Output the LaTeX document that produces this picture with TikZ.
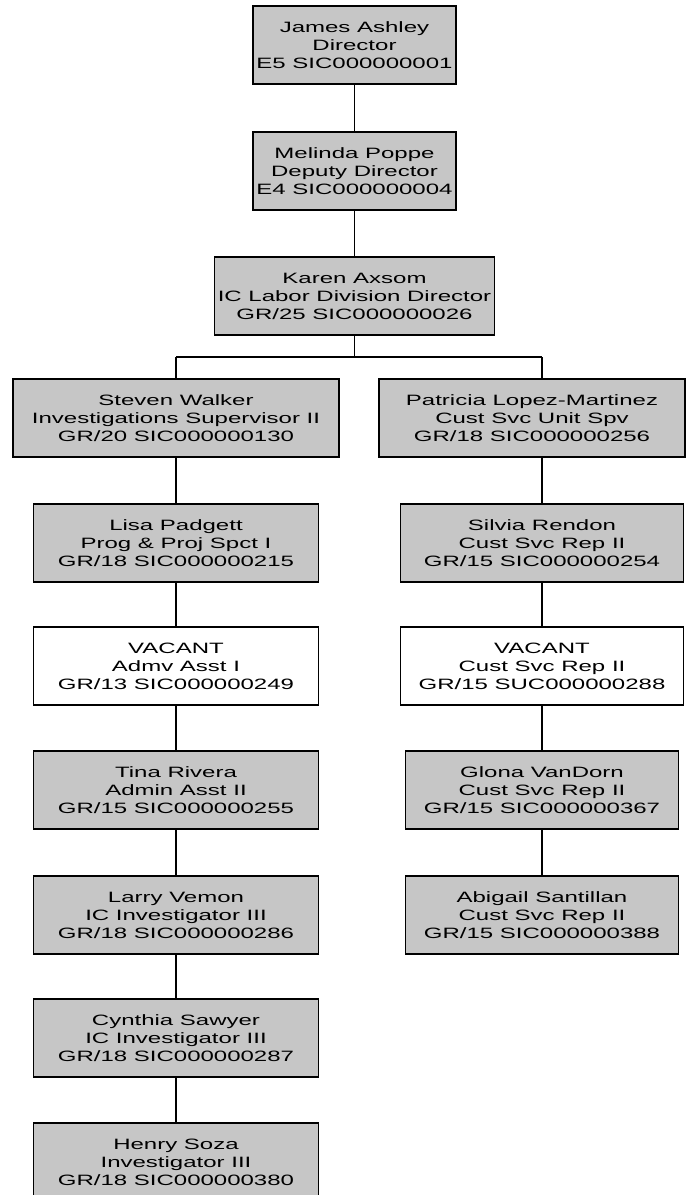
\documentclass[tikz,border=0pt]{standalone}
\usepackage{fontspec}
\newfontfamily\chartfont[FakeStretch=1.6]{Liberation Sans}
\begin{document}
\begin{tikzpicture}[x=1pt,y=-1pt,
  person/.style={draw=black,line width=1.8pt,fill=gray!45,rectangle,align=center,
    inner sep=0pt,font=\chartfont\fontsize{15}{18}\selectfont,minimum height=78pt},
  vacant/.style={person,fill=white},
  wtop/.style={minimum width=203pt},
  wside/.style={minimum width=285pt},
  link/.style={draw=black,line width=1.8pt}]
\useasboundingbox (0,0) rectangle (687,1195);
\begin{scope}
\clip (0,0) rectangle (687,1195);
\node[person,wtop] (ja) at (354.5,45) {James Ashley\\Director\\E5 SIC000000001};
\node[person,wtop] (mp) at (354.5,171) {Melinda Poppe\\Deputy Director\\E4 SIC000000004};
\node[person,minimum width=280pt] (ka) at (354.5,296) {Karen Axsom\\IC Labor Division Director\\GR/25 SIC000000026};
\node[person,minimum width=326pt] (sw) at (176,418) {Steven Walker\\Investigations Supervisor II\\GR/20 SIC000000130};
\node[person,minimum width=306pt] (pl) at (532,418) {Patricia Lopez-Martinez\\Cust Svc Unit Spv\\GR/18 SIC000000256};
\node[person,wside] (lp) at (176,543) {Lisa Padgett\\Prog \& Proj Spct I\\GR/18 SIC000000215};
\node[person,minimum width=283pt] (sr) at (542,543) {Silvia Rendon\\Cust Svc Rep II\\GR/15 SIC000000254};
\node[vacant,wside] (v1) at (176,666) {VACANT\\Admv Asst I\\GR/13 SIC000000249};
\node[vacant,minimum width=283pt] (v2) at (542,666) {VACANT\\Cust Svc Rep II\\GR/15 SUC000000288};
\node[person,wside] (tr) at (176,790) {Tina Rivera\\Admin Asst II\\GR/15 SIC000000255};
\node[person,minimum width=273pt] (gv) at (542,790) {Glona VanDorn\\Cust Svc Rep II\\GR/15 SIC000000367};
\node[person,wside] (lv) at (176,915) {Larry Vemon\\IC Investigator III\\GR/18 SIC000000286};
\node[person,minimum width=273pt] (as) at (542,915) {Abigail Santillan\\Cust Svc  Rep II\\GR/15 SIC000000388};
\node[person,wside] (cs) at (176,1038) {Cynthia Sawyer\\IC Investigator III\\GR/18 SIC000000287};
\node[person,wside] (hs) at (176,1162) {Henry Soza\\Investigator III\\GR/18 SIC000000380};
\coordinate (jl) at (176,357);
\coordinate (jr) at (542,357);
\draw[link] (ja.south) -- (mp.north);
\draw[link] (mp.south) -- (ka.north);
\draw[link] (ka.south) -- (ka.south |- jl);
\draw[link] (jl) -- (jr);
\draw[link] (jl) -- (sw.north);
\draw[link] (jr) -- (jr |- pl.north);
\draw[link] (sw.south) -- (lp.north);
\draw[link] (lp.south) -- (v1.north);
\draw[link] (v1.south) -- (tr.north);
\draw[link] (tr.south) -- (lv.north);
\draw[link] (lv.south) -- (cs.north);
\draw[link] (cs.south) -- (hs.north);
\draw[link] (jr |- pl.south) -- (sr.north);
\draw[link] (sr.south) -- (v2.north);
\draw[link] (v2.south) -- (gv.north);
\draw[link] (gv.south) -- (as.north);
\end{scope}
\end{tikzpicture}
\end{document}
